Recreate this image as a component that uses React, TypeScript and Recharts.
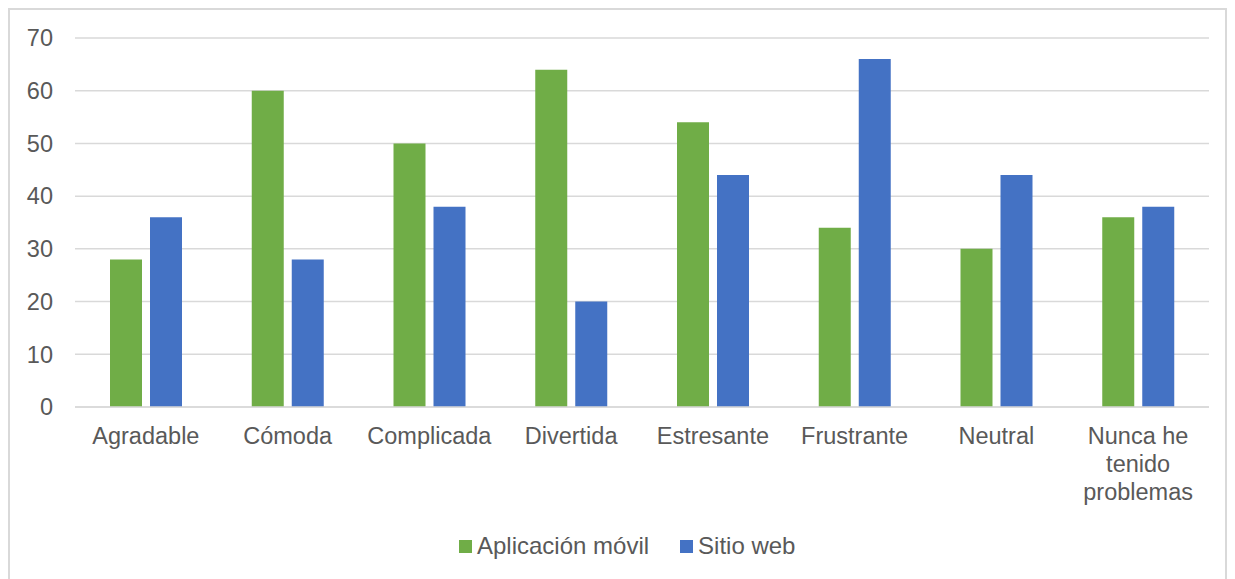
import { BarChart, Bar, XAxis, YAxis, CartesianGrid, Legend } from "recharts";

const categories = [
  "Agradable",
  "Cómoda",
  "Complicada",
  "Divertida",
  "Estresante",
  "Frustrante",
  "Neutral",
  "Nunca he tenido problemas",
];
const appValues = [28, 60, 50, 64, 54, 34, 30, 36];
const webValues = [36, 28, 38, 20, 44, 66, 44, 38];
const yTicks = [0, 10, 20, 30, 40, 50, 60, 70];

const FONT = '"Liberation Sans", Arial, Helvetica, sans-serif';
const TEXT_COLOR = "#595959";
const FONT_SIZE = 23.5;
const LINE_HEIGHT = 28.3;

const data = categories.map((name, i) => ({
  name,
  app: appValues[i],
  web: webValues[i],
}));

// greedy word wrap, max ~10 characters per line
const wrapLabel = (label: string, maxChars = 10) => {
  const lines: string[] = [];
  let current = "";
  label.split(" ").forEach((word) => {
    const next = current ? `${current} ${word}` : word;
    if (current && next.length > maxChars) {
      lines.push(current);
      current = word;
    } else {
      current = next;
    }
  });
  if (current) lines.push(current);
  return lines;
};

const CategoryTick = ({ x, y, payload }: any) => {
  const lines = wrapLabel(String(payload.value));
  return (
    <text
      x={x}
      y={y}
      textAnchor="middle"
      fill={TEXT_COLOR}
      style={{ fontSize: FONT_SIZE, fontFamily: FONT }}
    >
      {lines.map((line, i) => (
        <tspan key={i} x={x} dy={i === 0 ? "0.71em" : LINE_HEIGHT}>
          {line}
        </tspan>
      ))}
    </text>
  );
};

const LegendContent = ({ payload }: any) => (
  <div style={{ display: "flex", alignItems: "center", fontFamily: FONT, fontSize: 24, color: TEXT_COLOR }}>
    {(payload || []).map((entry: any, i: number) => (
      <div key={i} style={{ display: "flex", alignItems: "center", marginRight: 31 }}>
        <span style={{ width: 13, height: 13, background: entry.color, marginRight: 5, display: "inline-block" }} />
        <span>{entry.value}</span>
      </div>
    ))}
  </div>
);

export default function App() {
  return (
    <div style={{ width: 1215, border: "2px solid #d9d9d9", background: "#fff" }}>
      <BarChart
        width={1215}
        height={575}
        data={data}
        margin={{ top: 28, right: 16, left: 0, bottom: 48 }}
        barSize={32}
        barGap={8}
      >
        <CartesianGrid vertical={false} stroke="#d9d9d9" strokeWidth={1.5} />
        <XAxis
          dataKey="name"
          height={130}
          tickLine={false}
          tickSize={0}
          tickMargin={20}
          axisLine={{ stroke: "#d9d9d9", strokeWidth: 1.5 }}
          interval={0}
          tick={<CategoryTick />}
        />
        <YAxis
          width={65}
          domain={[0, 70]}
          ticks={yTicks}
          axisLine={false}
          tickLine={false}
          tickSize={0}
          tickMargin={22}
          tick={{ fill: TEXT_COLOR, fontSize: FONT_SIZE, fontFamily: FONT }}
        />
        <Legend
          layout="horizontal"
          verticalAlign="middle"
          align="center"
          wrapperStyle={{ top: 522, left: 449, width: "auto" }}
          content={<LegendContent />}
        />
        <Bar dataKey="app" name="Aplicación móvil" fill="#70ad47" isAnimationActive={false} />
        <Bar dataKey="web" name="Sitio web" fill="#4472c4" isAnimationActive={false} />
      </BarChart>
    </div>
  );
}
